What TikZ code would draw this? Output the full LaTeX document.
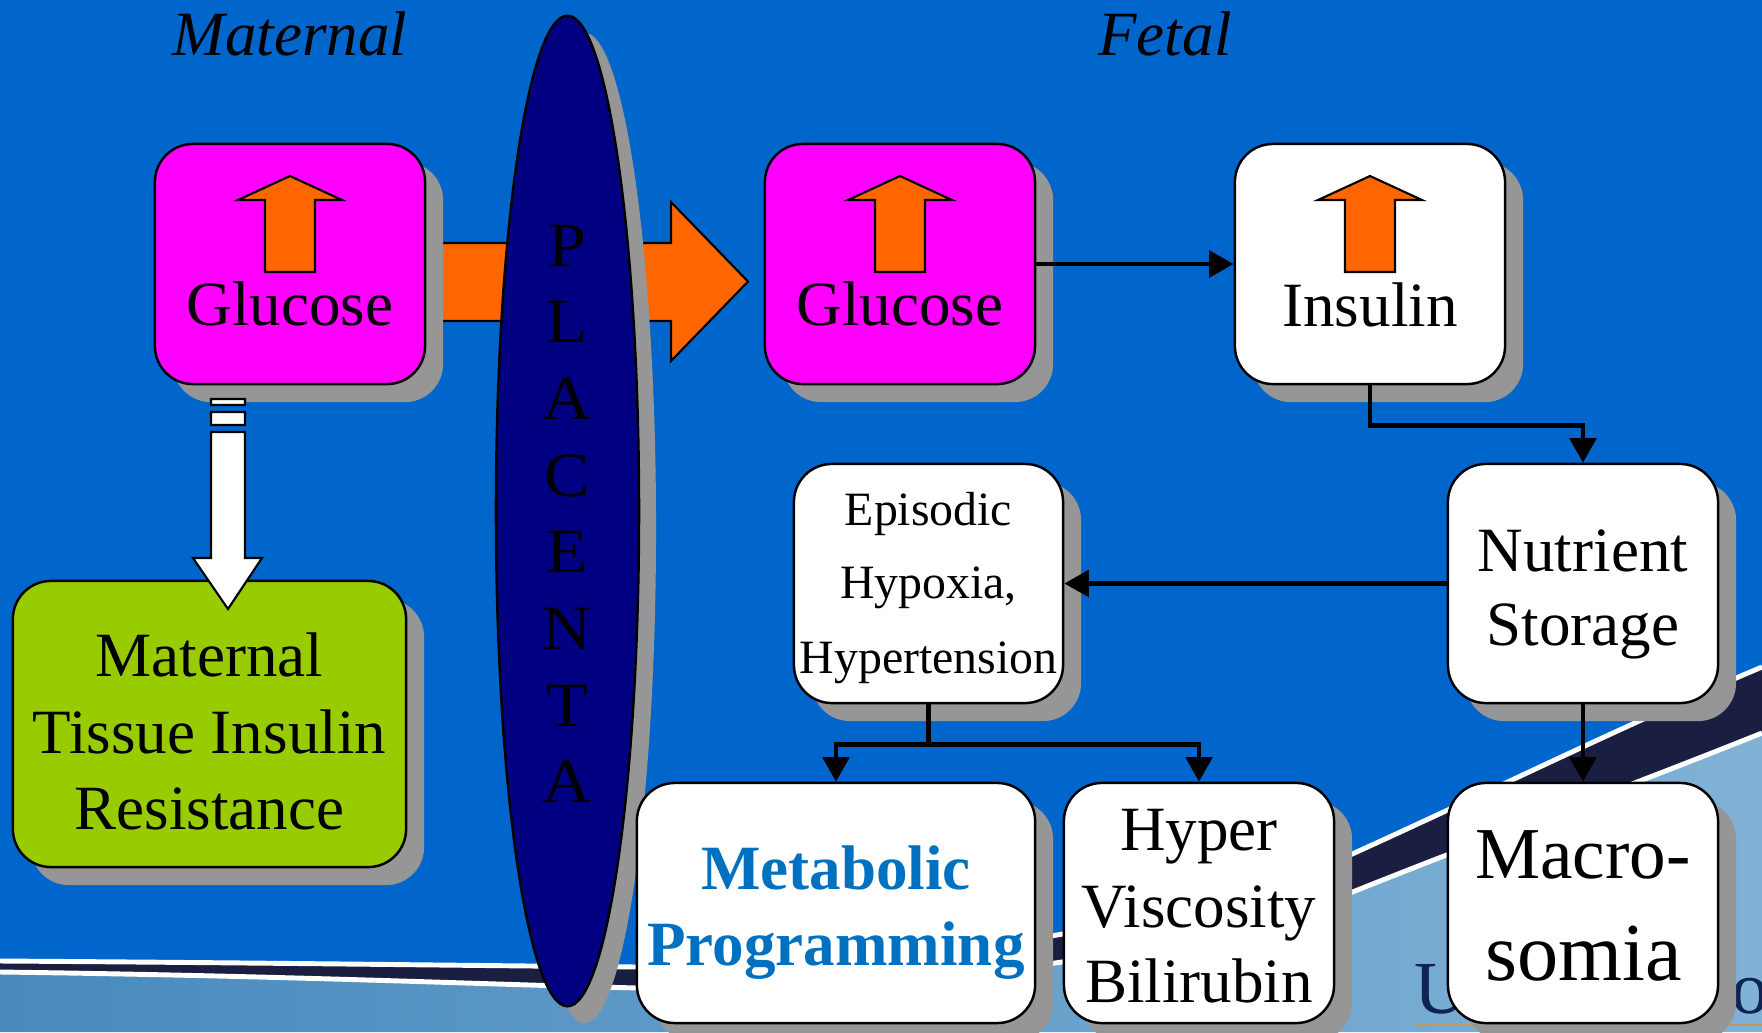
\documentclass[tikz,border=0pt]{standalone}
\usepackage{fontspec}
\setmainfont{Liberation Serif}
\usetikzlibrary{shadows,arrows.meta,shapes.geometric}
\definecolor{bgblue}{RGB}{0,102,204}
\definecolor{placnavy}{RGB}{0,0,128}
\definecolor{magbox}{RGB}{255,0,255}
\definecolor{orangearr}{RGB}{255,102,0}
\definecolor{greenbox}{RGB}{153,204,0}
\definecolor{shgray}{RGB}{150,150,150}
\definecolor{metblue}{RGB}{0,112,192}
\definecolor{swnavy}{RGB}{26,31,66}
\definecolor{lbleft}{RGB}{72,138,190}
\definecolor{lbright}{RGB}{128,178,214}
\definecolor{logonavy}{RGB}{15,35,85}
\definecolor{tanline}{RGB}{200,150,90}
\begin{document}
\begin{tikzpicture}[x=0.01cm,y=-0.01cm,
  fmid/.style={font=\fontsize{17.93pt}{20pt}\selectfont},
  fsmall/.style={font=\fontsize{13.6pt}{16pt}\selectfont},
  fbig/.style={font=\fontsize{20.8pt}{24pt}\selectfont},
  fbigger/.style={font=\fontsize{23.4pt}{26pt}\selectfont},
  fitl/.style={font=\fontsize{17.93pt}{20pt}\selectfont\itshape},
  fbold/.style={font=\fontsize{17.93pt}{20pt}\selectfont\bfseries, text=metblue},
  flogo/.style={font=\fontsize{21.3pt}{24pt}\selectfont, text=logonavy},
  txt/.style={anchor=base, inner sep=0pt},
  boxsh/.style={draw=black, line width=0.7pt, rounded corners=0.38cm, inner sep=0pt,
    drop shadow={shadow xshift=0.18cm, shadow yshift=-0.18cm, fill=shgray, opacity=1}},
  stdbox/.style={boxsh, minimum width=2.7cm, minimum height=2.4cm},
  conn/.style={line width=1.4pt, -{Triangle[length=7pt,width=7.5pt]}},
  blockarr/.style={draw=black, line width=0.6pt, fill=orangearr},
  uparrow/.pic={\draw[blockarr] (0,32) -- (52,56) -- (25,56) -- (25,128) -- (-25,128) -- (-25,56) -- (-52,56) -- cycle;}
]
\useasboundingbox (0,0) rectangle (1762,1032);
\clip (0,0) rectangle (1762,1032);
% background
\fill[bgblue] (0,0) rectangle (1762,1032);
\shade[left color=lbleft, right color=lbright]
  (0,972) .. controls (300,976) and (500,985) .. (640,988)
  .. controls (900,995) and (1200,953) .. (1350,893)
  .. controls (1500,833) and (1620,790) .. (1762,733)
  -- (1762,1032) -- (0,1032) -- cycle;
\fill[swnavy]
  (0,961) .. controls (300,963) and (500,966) .. (640,967)
  .. controls (900,972) and (1200,923) .. (1350,855)
  .. controls (1500,787) and (1620,727) .. (1762,667)
  -- (1762,733) .. controls (1620,790) and (1500,833) .. (1350,893)
  .. controls (1200,953) and (900,995) .. (640,988)
  .. controls (500,985) and (300,976) .. (0,972) -- cycle;
\draw[white, line width=1.4pt]
  (0,961) .. controls (300,963) and (500,966) .. (640,967)
  .. controls (900,972) and (1200,923) .. (1350,855)
  .. controls (1500,787) and (1620,727) .. (1762,667);
\draw[white, line width=1.4pt]
  (0,972) .. controls (300,976) and (500,985) .. (640,988)
  .. controls (900,995) and (1200,953) .. (1350,893)
  .. controls (1500,833) and (1620,790) .. (1762,733);
% logo fragments behind the Macrosomia box
\node[flogo, anchor=base west, inner sep=0pt] (logoU) at (1414,1013) {U};
\node[flogo, anchor=base west, inner sep=0pt] (logoo) at (1731,1013) {o};
\draw[tanline, line width=0.6pt] (1415,1025) -- (1762,1025);
% big orange arrow through the placenta
\draw[blockarr] (400,243) -- (671,243) -- (671,202) -- (748,281.5) -- (671,361) -- (671,321) -- (400,321) -- cycle;
% placenta
\node[ellipse, draw=black, line width=0.7pt, fill=placnavy, minimum width=1.43cm, minimum height=9.9cm, inner sep=0pt,
  drop shadow={shadow xshift=0.17cm, shadow yshift=-0.17cm, fill=shgray, opacity=1}] (plac) at (567.5,511) {};
\foreach \L [count=\i from 0] in {P,L,A,C,E,N,T,A}
  \node[fmid, txt, xscale=1.08] (pl\i) at (567,{266+76.7*\i}) {\L};
% titles
\node[fitl, txt] (tmat) at (290,55) {Maternal};
\node[fitl, txt] (tfet) at (1165,55) {Fetal};
% boxes
\node[stdbox, fill=magbox] (mglu) at (290,264) {};
\node[stdbox, fill=magbox] (fglu) at (900,264) {};
\node[stdbox, fill=white] (ins) at (1370,264) {};
\node[stdbox, fill=white, minimum height=2.39cm] (nut) at (1583,583.5) {};
\node[stdbox, fill=white, minimum width=2.69cm, minimum height=2.39cm] (epi) at (928.5,583.5) {};
\node[stdbox, fill=white, minimum width=3.98cm] (met) at (836,903) {};
\node[stdbox, fill=white] (hyp) at (1199,903) {};
\node[stdbox, fill=white] (mac) at (1583,903) {};
\node[boxsh, fill=greenbox, minimum width=3.93cm, minimum height=2.86cm] (mtir) at (209.5,724) {};
% up arrows
\pic at (290,144) {uparrow};
\pic at (900,144) {uparrow};
\pic at (1370,144) {uparrow};
% texts
\node[fmid, txt] (g1) at (290,325) {Glucose};
\node[fmid, txt] (g2) at (900,325) {Glucose};
\node[fmid, txt] (i1) at (1370,326) {Insulin};
\node[fmid, txt] (m1) at (209.5,676) {Maternal};
\node[fmid, txt] (m2) at (209.5,753) {Tissue Insulin};
\node[fmid, txt] (m3) at (209.5,829) {Resistance};
\node[fsmall, txt] (e1) at (928.5,525) {Episodic};
\node[fsmall, txt] (e2) at (928.5,598) {Hypoxia,};
\node[fsmall, txt] (e3) at (928.5,673) {Hypertension};
\node[fmid, txt] (n1) at (1583,571) {Nutrient};
\node[fmid, txt] (n2) at (1583,645) {Storage};
\node[fbold, txt] (b1) at (836,889) {Metabolic};
\node[fbold, txt] (b2) at (836,965) {Programming};
\node[fmid, txt] (h1) at (1199,850) {Hyper};
\node[fmid, txt] (h2) at (1199,927) {Viscosity};
\node[fmid, txt] (h3) at (1199,1002) {Bilirubin};
\node[fbig, txt] (a1) at (1583,878) {Macro-};
\node[fbigger, txt] (a2) at (1584,980) {somia};
% white striped arrow
\draw[fill=white, line width=0.6pt]
  (211,399) rectangle (245,405)
  (211,412) rectangle (245,425)
  (211,432) -- (245,432) -- (245,558) -- (262,558) -- (228,609) -- (193,558) -- (211,558) -- cycle;
% connectors
\draw[conn] (fglu.east) -- (ins.west);
\draw[conn] (ins.south) -- ++(0,40) -| (nut.north);
\draw[conn] (nut.west) -- (epi.east);
\draw[conn] (epi.south) -- ++(0,40) -| (met.north);
\draw[conn] (epi.south) -- ++(0,40) -| (hyp.north);
\draw[conn] (nut.south) -- (mac.north);
\end{tikzpicture}
\end{document}
